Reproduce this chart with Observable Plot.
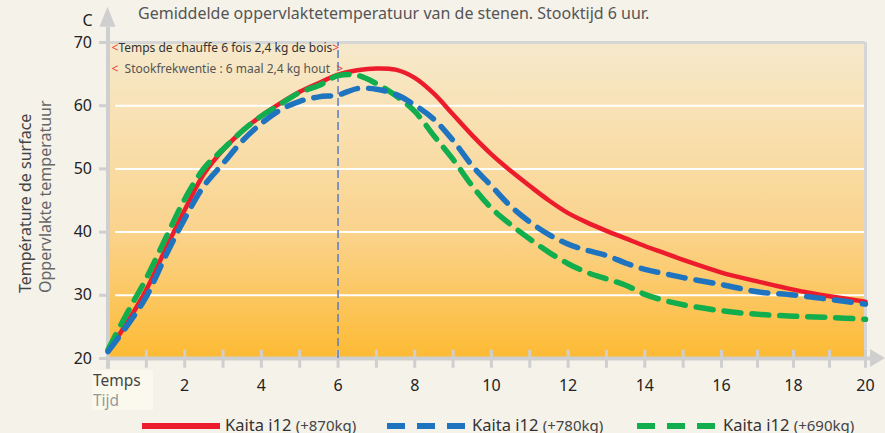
<!DOCTYPE html>
<html><head><meta charset="utf-8">
<script src="https://cdn.jsdelivr.net/npm/d3@7"></script>
<script src="https://cdn.jsdelivr.net/npm/@observablehq/plot@0.6"></script>
<style>
body{margin:0;background:#f5f2ea;font-family:"Noto Sans",sans-serif;}
#wrap{position:relative;width:885px;height:433px;overflow:hidden;}
</style></head><body><div id="wrap"></div>
<script>
// Data (hours of time, surface temperature °C)
const hours = [0,0.5,1,1.5,2,2.5,3,3.5,4,4.5,5,5.5,6,6.5,7,7.5,8,8.5,9,9.5,10,10.5,11,11.5,12,12.5,13,13.5,14,14.5,15,16,17,18,19,20];
const kaita870 = [21.2,25.7,30.9,37.3,43.5,49.2,53.0,56.0,58.4,60.4,62.2,63.6,64.9,65.6,65.9,65.7,64.4,61.9,58.6,55.3,52.3,49.7,47.3,45.0,43.0,41.5,40.2,39.0,37.8,36.7,35.6,33.6,32.2,30.9,29.85,29.0];
const kaita780 = [21.1,25.2,29.8,36.2,42.1,47.3,50.85,54.4,57.2,59.35,60.7,61.4,61.7,62.7,62.6,61.8,60.1,57.85,54.5,50.5,47.3,44.1,41.6,39.6,38.1,37.1,36.3,35.1,34.1,33.45,32.8,31.7,30.55,30.05,29.35,28.6];
const kaita690 = [21.4,27.2,32.7,39.0,45.2,50.05,53.1,56.0,58.35,60.25,62.1,63.2,64.75,64.8,63.5,61.6,59.1,55.25,51.5,47.3,43.8,41.2,38.9,36.8,35.0,33.6,32.6,31.6,30.15,29.2,28.5,27.55,27.0,26.7,26.5,26.2];
const seriesNames = ["Kaita i12", "Kaita i12", "Kaita i12"];
const seriesMass = ["(+870kg)", "(+780kg)", "(+690kg)"];
const yTicks = [20,30,40,50,60,70];
const yGrid = [30,40,50,60];
const xMinorTicks = d3.range(0,21,1);
const xLabels = [2,4,6,8,10,12,14,16,18,20];
const stokeHour = 6;
const title = "Gemiddelde oppervlaktetemperatuur van de stenen. Stooktijd 6 uur.";
const unitLabel = "C";
const yTitleFr = "Température de surface";
const yTitleNl = "Oppervlakte temperatuur";
const xTitleFr = "Temps";
const xTitleNl = "Tijd";
const noteFr = "Temps de chauffe 6 fois 2,4 kg de bois";
const noteNl = " Stookfrekwentie : 6 maal 2,4 kg hout ";

const colors = ["#ec1c2c", "#1f74c0", "#12ad4d"];
const mk = (vals) => hours.map((h,i)=>({h, v: vals[i]}));
const d870 = mk(kaita870), d780 = mk(kaita780), d690 = mk(kaita690);

// the original time axis is slightly compressed after 16 h
const warp = h => h <= 16 ? h : 16 + (h - 16) * 36 / 38.34;

const axisGrey = "#cfcfcf";
const plot = Plot.plot({
  width: 885, height: 433,
  marginLeft: 108, marginRight: 20, marginTop: 42, marginBottom: 75,
  style: {background: "transparent", fontFamily: "Noto Sans", overflow: "visible"},
  x: {transform: warp, domain: [0, warp(20)], range: [107.5, 865], axis: null},
  y: {domain: [20, 70], range: [358, 42], axis: null},
  marks: [
    Plot.frame({fill: "url(#bgGrad)", stroke: null}),
    Plot.ruleY(yGrid, {x1: 0.2, x2: 20, stroke: "#ffffff", strokeWidth: 2}),
    Plot.ruleY([70], {x1: 0, x2: 20, stroke: "#d6d6d6", strokeWidth: 3}),
    Plot.ruleX([20], {y1: 20, y2: 70, stroke: "#d6d6d6", strokeWidth: 3}),
    Plot.ruleX(xMinorTicks, {y1: 18.45, y2: 21.3, stroke: axisGrey, strokeWidth: 3}),
    Plot.ruleY([20], {x1: 0, x2: 20.15, stroke: axisGrey, strokeWidth: 4}),
    Plot.ruleY(yTicks, {x1: -0.22, x2: 0, stroke: axisGrey, strokeWidth: 3}),
    Plot.ruleX([0], {y1: 18.3, y2: 72.4, stroke: axisGrey, strokeWidth: 4}),
    Plot.ruleX([stokeHour], {y1: 20, y2: 70, stroke: "#5b7cc0", strokeWidth: 1.5, strokeDasharray: "8,4"}),
    Plot.text(yTicks, {x: 0, y: d=>d, text: d=>String(d), textAnchor: "end", dx: -16, fontSize: 16, fill: "#222"}),
    Plot.text(xLabels, {x: d=>d, y: 20, text: d=>String(d), dy: 27, fontSize: 16, fill: "#222"}),
    Plot.line(d870, {x: "h", y: "v", stroke: colors[0], strokeWidth: 4.5, curve: "catmull-rom"}),
    Plot.line(d690, {x: "h", y: "v", stroke: colors[2], strokeWidth: 5.5, strokeDasharray: "17,11", curve: "catmull-rom"}),
    Plot.line(d780, {x: "h", y: "v", stroke: colors[1], strokeWidth: 5.5, strokeDasharray: "17,11", curve: "catmull-rom"})
  ]
});

const svg = d3.select(plot);
const sy = plot.scale("y");
const xr = plot.scale("x").range;
const defs = svg.insert("defs", ":first-child");
const g = defs.append("linearGradient").attr("id","bgGrad").attr("x1",0).attr("y1",0).attr("x2",0).attr("y2",1);
[["0%","#f6e9cc"],["30%","#f9dfad"],["60%","#fad38c"],["85%","#fcc456"],["100%","#fdba33"]]
  .forEach(([o,c]) => g.append("stop").attr("offset",o).attr("stop-color",c));

// axis arrowheads
const ax0 = xr[0], ayTop = sy.apply(72.4), ay0 = sy.apply(20), axEnd = xr[1] + 5;
svg.append("polygon").attr("points", `${ax0-8},${ayTop} ${ax0+8},${ayTop} ${ax0},${ayTop-20}`).attr("fill", axisGrey);
svg.append("polygon").attr("points", `${axEnd},${ay0-9} ${axEnd},${ay0+9} ${axEnd+15},${ay0}`).attr("fill", axisGrey);

const addText = (x, y, size, fill, txt) => svg.append("text").attr("x",x).attr("y",y)
  .attr("text-anchor","start").attr("font-size",size).attr("fill",fill).text(txt);

// title and axis titles
addText(138, 19, 16, "#555", title);
addText(ax0-25, 26, 16, "#222", unitLabel);
svg.append("text").attr("transform","translate(31,293) rotate(-90)").attr("text-anchor","start").attr("font-size",16).attr("fill","#444").text(yTitleFr);
svg.append("text").attr("transform","translate(51,293) rotate(-90)").attr("text-anchor","start").attr("font-size",16).attr("fill","#666").text(yTitleNl);
svg.append("rect").attr("x",92).attr("y",370).attr("width",61).attr("height",40).attr("fill","#fbf9ed");
addText(93, 386, 15.5, "#444", xTitleFr).attr("font-weight", 400);
addText(93, 406, 15.5, "#999", xTitleNl).attr("font-weight", 400);

// annotations
const nx = ax0 + 4;
const t1 = svg.append("text").attr("x",nx).attr("y",sy.apply(68.4)).attr("text-anchor","start").attr("font-size",12).attr("fill","#333");
t1.append("tspan").attr("fill","#e8383d").text("<");
t1.append("tspan").text(noteFr);
t1.append("tspan").attr("fill","#e8383d").text(">");
const t2 = svg.append("text").attr("x",nx).attr("y",sy.apply(65.1)).attr("text-anchor","start").attr("font-size",12).attr("fill","#555").style("white-space","pre");
t2.append("tspan").attr("fill","#e8383d").text("<");
t2.append("tspan").text(" " + noteNl + " ");
t2.append("tspan").attr("fill","#e8383d").text(">");

// legend
const leg = [
  {x1:142, x2:220, tx:225, dash:null},
  {x1:387, x2:465, tx:472, dash:"18,12"},
  {x1:637, x2:715, tx:723, dash:"18,12"}
];
leg.forEach((l,i) => {
  const ln = svg.append("line").attr("x1",l.x1).attr("x2",l.x2).attr("y1",426).attr("y2",426)
    .attr("stroke",colors[i]).attr("stroke-width",6);
  if (l.dash) ln.attr("stroke-dasharray", l.dash);
  const t = svg.append("text").attr("x",l.tx).attr("y",431).attr("text-anchor","start").attr("font-size",16.5).attr("fill","#333");
  t.append("tspan").text(seriesNames[i] + " ");
  t.append("tspan").attr("font-size",15).attr("fill","#444").text(seriesMass[i]);
});

document.getElementById("wrap").appendChild(plot);
</script></body></html>
